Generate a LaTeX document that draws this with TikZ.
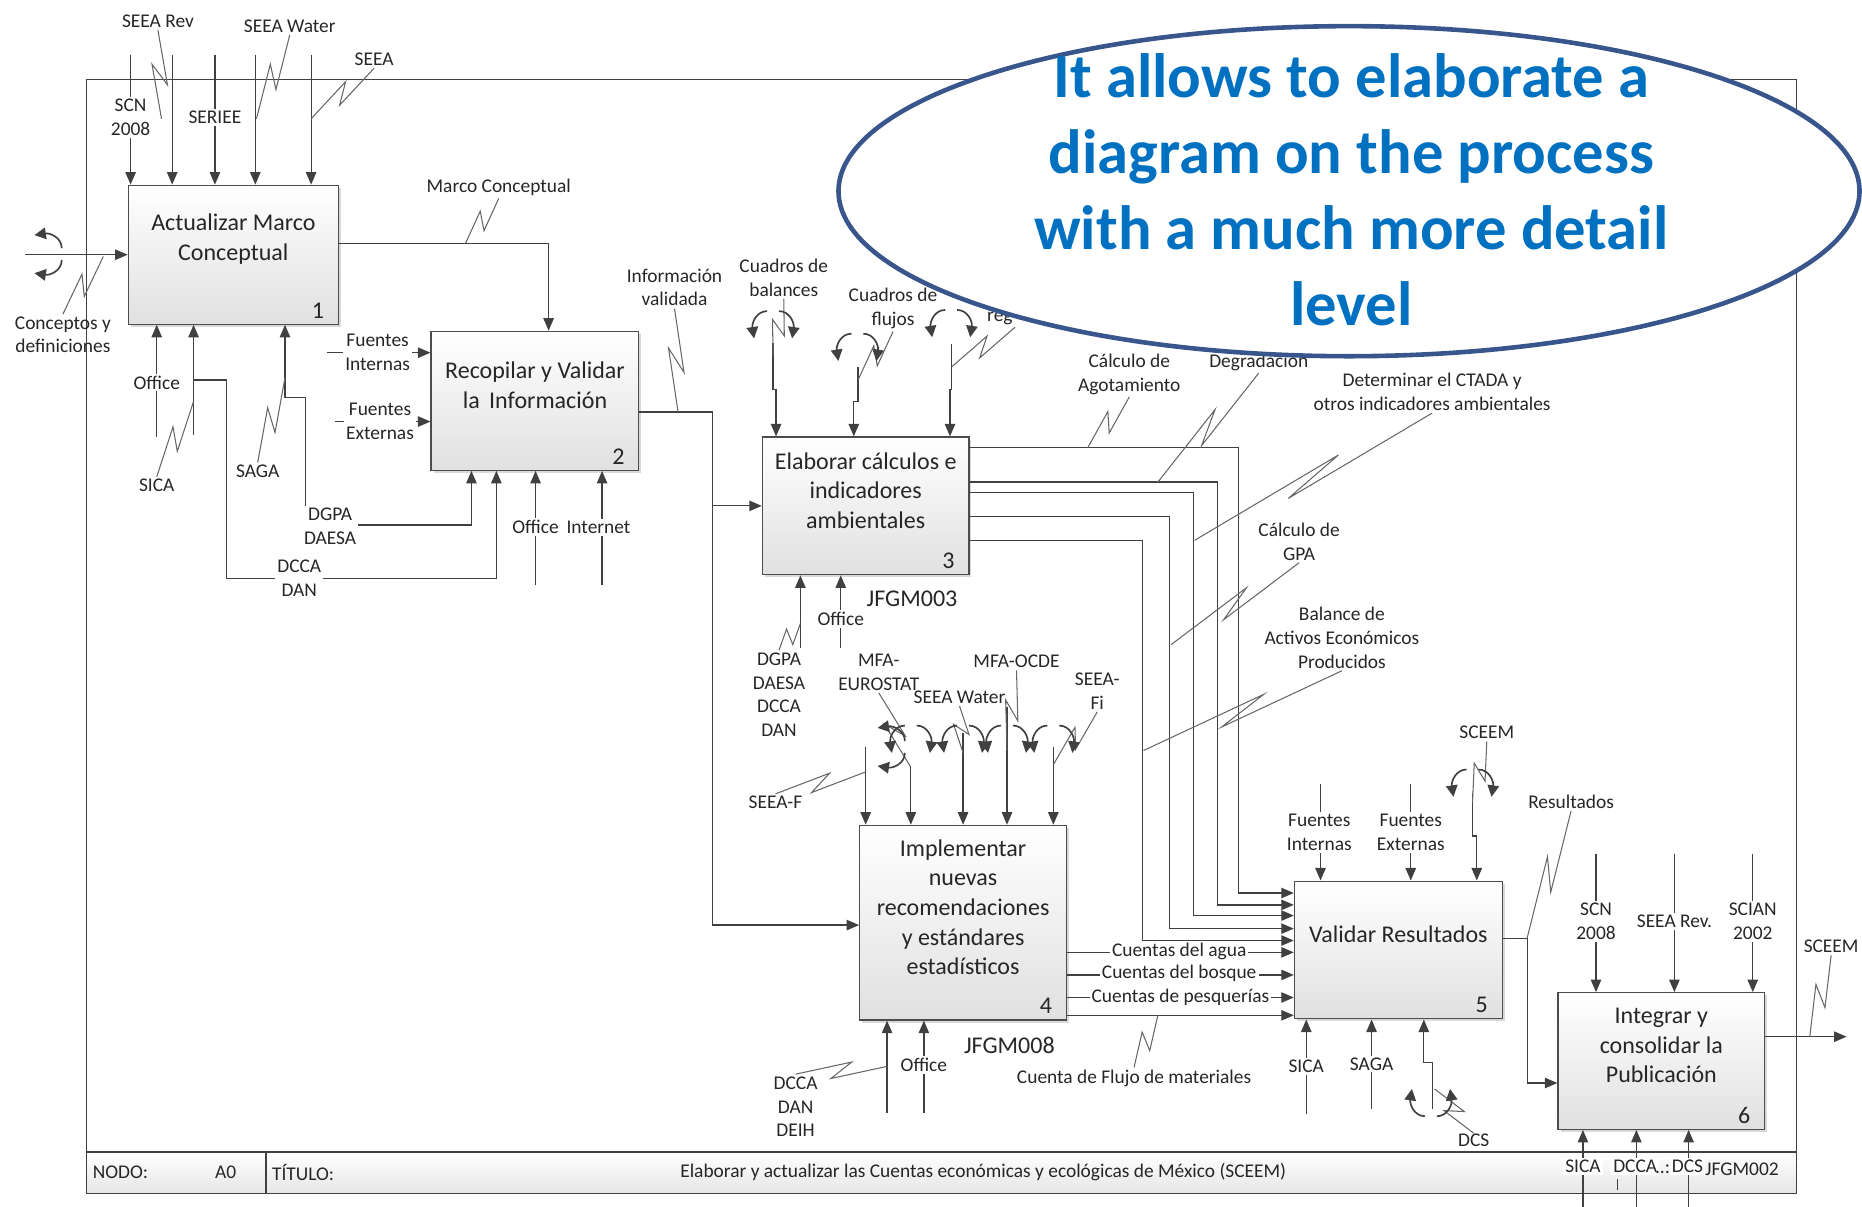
\documentclass[tikz,border=0pt]{standalone}
\usepackage{fontspec}
\setmainfont{Carlito}
\usetikzlibrary{arrows.meta, calc, shapes.geometric, shadows}

\definecolor{callblue}{RGB}{0,112,192}
\definecolor{calledge}{RGB}{56,86,140}

% lightning-like connector between a label and its arrow
\newcommand{\squig}[2]{%
  \draw[sq] (#1) -- ($(#1)!.62!(#2)!3.5pt!90:(#2)$) -- ($(#1)!.38!(#2)!3.5pt!-90:(#2)$) -- (#2);}

\begin{document}
\begin{tikzpicture}[x=0.02cm, y=-0.02cm,
    wire/.style={draw=black!75, line width=0.6pt},
    arr/.style={wire, -{Triangle[length=6pt, width=5pt]}},
    sq/.style={draw=black!60, line width=0.5pt},
    tn/.style={draw=black!75, line width=0.8pt, -{Triangle[length=5.5pt, width=5.5pt]}},
    proc/.style={rectangle, draw=black!70, line width=0.6pt, top color=white, bottom color=black!12,
      minimum width=3.5cm, minimum height=2.33cm, inner sep=0pt,
      drop shadow={shadow xshift=1.2pt, shadow yshift=-1.2pt, opacity=.3}},
    ptext/.style={font=\fontsize{11.5}{14.2}\selectfont, align=center, text=black!85, yshift=0.26cm},
    num/.style={font=\fontsize{11.5}{14}\selectfont, text=black!85, anchor=south east, inner xsep=7pt, inner ysep=3pt},
    lbl/.style={font=\fontsize{9.3}{11.4}\selectfont, align=center, text=black!85, inner sep=1pt},
    onl/.style={lbl, fill=white},
    jf/.style={font=\fontsize{11.5}{14}\selectfont},
    tun/.pic={\draw[tn] (-5,-12) .. controls (-14,-12) and (-18,-2) .. (-16,11);
              \draw[tn] (5,-12) .. controls (14,-12) and (18,-2) .. (16,11);},
    callout/.style={ellipse, draw=calledge, line width=2.2pt, fill=white,
      minimum width=17.2cm, minimum height=5.56cm, inner sep=0pt}]
  \useasboundingbox (0,0) rectangle (1568,1016);

  % frame and title bar
  \shade[top color=white, bottom color=black!10] (73,970) rectangle (1513,1005);
  \draw[wire] (73,67) rectangle (1513,1005);
  \draw[wire] (73,970) -- (1513,970) (224,970) -- (224,1005);

  % activities
  \node[proc, minimum width=3.54cm, minimum height=2.34cm,
    label={[ptext]center:{Actualizar Marco\\Conceptual}}, label={[num]south east:1}] (b1) at (196.5,214.5) {};
  \node[proc, minimum height=2.34cm,
    label={[ptext]center:{Recopilar y Validar\\la\, Información}}, label={[num]south east:2}] (b2) at (450.5,337.5) {};
  \node[proc, minimum width=3.48cm, minimum height=2.32cm,
    label={[ptext]center:{Elaborar cálculos e\\indicadores\\ambientales}}, label={[num]south east:3}] (b3) at (729,426) {};
  \node[proc, minimum width=3.48cm, minimum height=3.28cm,
    label={[ptext]center:{Implementar\\nuevas\\recomendaciones\\y estándares\\estadísticos}}, label={[num]south east:4}] (b4) at (811,777) {};
  \node[proc, minimum height=2.32cm,
    label={[ptext]center:{Validar Resultados}}, label={[num]south east:5}] (b5) at (1177.5,800) {};
  \node[proc, minimum width=3.48cm, minimum height=2.3cm,
    label={[ptext]center:{Integrar y\\consolidar la\\Publicación}}, label={[num]south east:6}] (b6) at (1399,893.5) {};

  % box 1
  \foreach \x/\n in {110/scn, 145/rev, 181/ser, 215/wat, 262/seea}{
    \coordinate (\n) at (\x,46);
    \draw[arr] (\n) -- (\n |- b1.north);}
  \coordinate (conc) at (21,214.5);
  \draw[arr] (conc) -- (b1.west);
  \foreach \x/\t/\n in {132/368/off1, 163/366/sica1, 240/335/saga1}{
    \coordinate (\n) at (\x,\t);
    \draw[arr] (\n) -- (\n |- b1.south);}
  \draw[arr] (163,320) -- (191,320) -- (191,487) -| (418,0 |- b2.south);
  \draw[arr] (240,335) -- (257,335) -- (257,442) -| (397,0 |- b2.south);
  \draw[arr] (b1.east |- 0,205) -| (462,0 |- b2.north);

  % box 2
  \coordinate (fi2) at (275,297);
  \coordinate (fe2) at (282,355);
  \draw[arr] (fi2) -- (fi2 -| b2.west);
  \draw[arr] (fe2) -- (fe2 -| b2.west);
  \foreach \x/\n in {451/off2, 507/int2}{
    \coordinate (\n) at (\x,493);
    \draw[arr] (\n) -- (\n |- b2.south);}
  \coordinate (split) at (600,426);
  \draw[wire] (b2.east |- 0,347) -| (split);
  \draw[arr] (split) -- (b3.west);
  \draw[arr] (split) |- (b4.west |- 0,779);

  % box 3
  \coordinate (bal) at (651,289);
  \coordinate (flu) at (722.6,309);
  \coordinate (reg) at (801.4,290);
  \draw[arr] (bal) -- (651,328) -- (653.5,328) -- (653.5,0 |- b3.north);
  \draw[arr] (flu) -- (722.6,338) -- (719,338) -- (719,0 |- b3.north);
  \draw[arr] (reg) -- (801.4,328) -- (800,328) -- (800,0 |- b3.north);
  \foreach \x in {674, 708} \draw[arr] (\x,546) -- (\x,0 |- b3.south);
  \foreach \y/\x/\z in {377/1043/752, 406/1025/762, 415/1005/771, 435/985/782, 455/962/792}
    \draw[arr] (b3.east |- 0,\y) -| (\x,\z) -- (b5.west |- 0,\z);

  % box 4
  \foreach \x/\t in {729/629, 767/646, 811/617, 848/595, 887/629}
    \draw[arr] (\x,\t) -- (\x,0 |- b4.north);
  \foreach \x in {747, 778} \draw[arr] (\x,937) -- (\x,0 |- b4.south);
  \foreach \y in {802, 821, 840, 855} \draw[arr] (b4.east |- 0,\y) -- (b5.west |- 0,\y);

  % box 5
  \foreach \x in {1112, 1188} \draw[arr] (\x,660) -- (\x,0 |- b5.north);
  \draw[arr] (1240,668) -- (1240,704) -- (1243.6,704) -- (1243.6,0 |- b5.north);
  \draw[arr] (1100,938) -- (1100,0 |- b5.south);
  \draw[arr] (1155,934) -- (1155,0 |- b5.south);
  \draw[arr] (1206,934) -- (1206,895) -- (1199,895) -- (1199,0 |- b5.south);
  \draw[arr] (b5.east |- 0,790) -| (1286,912) -- (b6.west |- 0,912);

  % box 6
  \foreach \x in {1344, 1410, 1476} \draw[arr] (\x,719) -- (\x,0 |- b6.north);
  \coordinate (out) at (1555,873);
  \draw[arr] (b6.east |- out) -- (out);
  \foreach \x in {1333, 1378, 1422} \draw[arr] (\x,1016) -- (\x,0 |- b6.south);
  \draw[wire] (1362,993) -- (1362,1002);

  % labels
  \node[lbl] (lrev) at (133,18) {SEEA Rev};
  \node[lbl] (lwat) at (244,22) {SEEA Water};
  \node[lbl] (lseea) at (315,50) {SEEA};
  \node[onl] (lscn) at (110,99) {SCN\\2008};
  \node[onl] (lser) at (181,99) {SERIEE};
  \node[lbl] (lconc) at (53,282) {Conceptos y\\definiciones};
  \node[onl] (loff1) at (132,322) {Office};
  \node[lbl] (lsica1) at (132,409) {SICA};
  \node[lbl] (lsaga1) at (217,397) {SAGA};
  \node[onl] (ldgpa1) at (278,443) {DGPA\\DAESA};
  \node[onl] (ldcca1) at (252,487) {DCCA\\DAN};
  \node[lbl] (lmarco) at (420,158) {Marco Conceptual};
  \node[onl] (lfi2) at (318,297) {Fuentes\\Internas};
  \node[onl] (lfe2) at (320,355) {Fuentes\\Externas};
  \node[onl] (loff2) at (451,444) {Office};
  \node[onl] (lint2) at (504,444) {Internet};
  \node[lbl] (linfo) at (568,242) {Información\\validada};
  \node[lbl] (lbal) at (660,234) {Cuadros de\\balances};
  \node[lbl] (lflu) at (752,260) {Cuadros de\\flujos};
  \node[lbl] (lreg) at (842,268) {reg};
  \node[lbl] (lagot) at (951,315) {Cálculo de\\Agotamiento};
  \node[lbl] (ldeg) at (1060,305) {Degradación};
  \node[lbl] (lctada) at (1206,330) {Determinar el CTADA y\\otros indicadores ambientales};
  \node[lbl] (lgpa) at (1094,456) {Cálculo de\\GPA};
  \node[lbl] (lbae) at (1130,537) {Balance de\\Activos Económicos\\Producidos};
  \node[lbl, jf] (ljf3) at (768,504) {JFGM003};
  \node[onl] (loff3) at (708,521) {Office};
  \node[lbl] (ldgpa3) at (656,585) {DGPA\\DAESA\\DCCA\\DAN};
  \node[lbl] (leuro) at (740,566) {MFA-\\EUROSTAT};
  \node[lbl] (lwat4) at (808,587) {SEEA Water};
  \node[lbl] (locde) at (856,557) {MFA-OCDE};
  \node[lbl] (lfi4) at (924,582) {SEEA-\\Fi};
  \node[lbl] (lf4) at (653,676) {SEEA-F};
  \node[lbl, jf] (ljf8) at (850,880) {JFGM008};
  \node[onl] (loff4) at (778,897) {Office};
  \node[lbl] (ldeih) at (670,932) {DCCA\\DAN\\DEIH};
  \node[onl, inner ysep=0pt] (lagua) at (993,801) {Cuentas del agua};
  \node[onl, inner ysep=0pt] (lbosq) at (993,820) {Cuentas del bosque};
  \node[onl, inner ysep=0pt] (lpesq) at (994,840) {Cuentas de pesquerías};
  \node[lbl] (lflujo) at (955,908) {Cuenta de Flujo de materiales};
  \node[lbl] (lsceem5) at (1252,617) {SCEEM};
  \node[onl] (lfi5) at (1111,701) {Fuentes\\Internas};
  \node[onl] (lfe5) at (1188,701) {Fuentes\\Externas};
  \node[lbl] (lres) at (1323,675) {Resultados};
  \node[onl] (lsica5) at (1100,898) {SICA};
  \node[onl] (lsaga5) at (1155,896) {SAGA};
  \node[onl, inner ysep=0pt] (ldcs5) at (1241,960) {DCS};
  \node[onl] (lscn6) at (1344,776) {SCN\\2008};
  \node[onl] (lrev6) at (1410,776) {SEEA Rev.};
  \node[onl] (lscian) at (1476,776) {SCIAN\\2002};
  \node[lbl] (lsceem6) at (1542,797) {SCEEM};

  % title bar
  \node[lbl, anchor=west] (lnodo) at (76,987) {NODO:};
  \node[lbl] (la0) at (190,987) {A0};
  \node[lbl, anchor=west] (ltit) at (227,987) {TÍTULO:};
  \node[lbl] (ltitle) at (828,987) {Elaborar y actualizar las Cuentas económicas y ecológicas de México (SCEEM)};
  \node[onl] (lsica6) at (1333,982) {SICA};
  \node[onl] (ldcca6) at (1377,982) {DCCA};
  \node[lbl, inner sep=0pt] (ldots) at (1400,985) {..:};
  \node[onl] (ldcs6) at (1421,982) {DCS};
  \node[lbl] (ljf2) at (1467,985) {JFGM002};

  % squiggles
  \squig{lrev.south}{136,100}
  \squig{lwat.south}{216,100}
  \squig{lseea.south}{262,100}
  \squig{lconc.north}{87,216}
  \squig{lsica1.north}{163,338}
  \squig{lsaga1.north}{240,318}
  \squig{lmarco.south}{392,205}
  \squig{linfo.south}{571,347}
  \squig{lbal.south}{651,300}
  \squig{lflu.south}{722.6,320}
  \squig{lreg.south east}{801.4,309}
  \squig{lagot.south}{916,377}
  \squig{ldeg.south}{975,406}
  \squig{lctada.south}{1006,455}
  \squig{lgpa.south}{986,543}
  \squig{lbae.south}{963,632}
  \squig{ldgpa3.north}{674,525}
  \squig{leuro.south}{767,646}
  \squig{lwat4.south}{811,634}
  \squig{locde.south}{848,632}
  \squig{lfi4.south}{887,644}
  \squig{lf4.north}{729,650}
  \squig{ldeih.north}{747,898}
  \squig{lflujo.north}{975,855}
  \squig{lsceem5.south}{1240,676}
  \squig{lres.south}{1286,790}
  \squig{ldcs5.north}{1208,917}
  \squig{lsceem6.south}{1524,873}

  % tunnel marks
  \pic[rotate=-90] at (40,214) {tun};
  \pic at (651,274) {tun};
  \pic at (722,293) {tun};
  \pic at (801,273) {tun};
  \pic[rotate=-90] at (750,629) {tun};
  \foreach \x in {767, 811, 848, 887} \pic at (\x,623) {tun};
  \pic at (1240,660) {tun};
  \pic[rotate=180] at (1205,928) {tun};

  % callout
  \node[callout] (ell) at (1136,161) {};
  \node[font=\fontsize{30}{36.4}\selectfont\bfseries, text=callblue, align=center] (calltext) at (1138,160)
    {It allows to elaborate a\\diagram on the process\\with a much more detail\\level};
\end{tikzpicture}
\end{document}
